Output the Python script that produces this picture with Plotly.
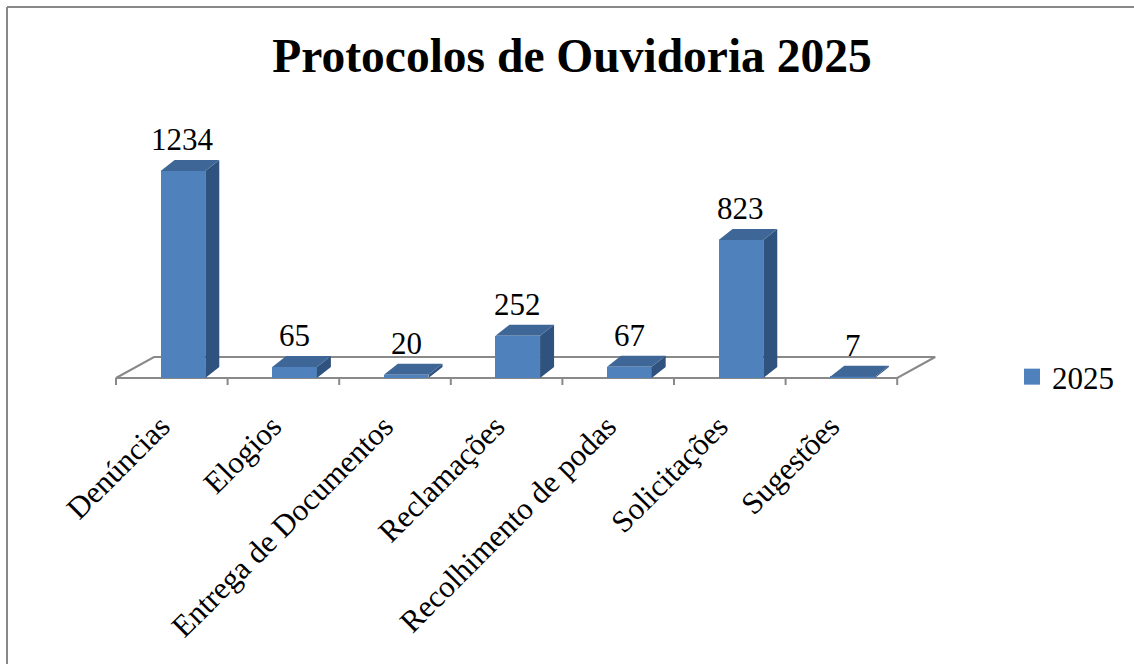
import plotly.graph_objects as go

categories = ["Denúncias", "Elogios", "Entrega de Documentos", "Reclamações",
              "Recolhimento de podas", "Solicitações", "Sugestões"]
values = [1234, 65, 20, 252, 67, 823, 7]
series_name = "2025"
title_text = "Protocolos de Ouvidoria 2025"

W, H = 1134, 664
X0_PX, CAT_PX = 116.0, 111.6      # floor front-left corner, px per category
Y0_PX, VAL_PX = 378.0, 0.1678     # floor front line, px per value unit

def px_x(p):  # pixel offset -> x data units
    return p / CAT_PX

def px_y(p):  # pixel offset -> y data units
    return p / VAL_PX

FRONT = "#4F81BD"
TOP = "#3E6797"
SIDE = "#30527E"
GRID = "#898989"
FONT = "Liberation Serif"

bar_off, bar_w = 0.6, 0.4
bdx, bdy = px_x(14), px_y(11)      # bar depth
fdx, fdy = px_x(38), px_y(21)      # floor depth
label_dx = px_x(11)                # category label shift (left)

n = len(categories)
fig = go.Figure()

# front faces
fig.add_trace(go.Bar(
    x=[i + bar_off for i in range(n)], y=values, width=bar_w,
    marker=dict(color=FRONT, line=dict(width=0)), name=series_name,
    showlegend=False, hoverinfo="skip"))

# top and side faces
for i, v in enumerate(values):
    x0 = i + bar_off - bar_w / 2
    x1 = i + bar_off + bar_w / 2
    fig.add_trace(go.Scatter(
        x=[x1, x1 + bdx, x1 + bdx, x1, x1], y=[0, bdy, v + bdy, v, 0],
        fill="toself", fillcolor=SIDE, mode="lines", line=dict(width=0, color=SIDE),
        showlegend=False, hoverinfo="skip"))
    fig.add_trace(go.Scatter(
        x=[x0, x1, x1 + bdx, x0 + bdx, x0], y=[v, v, v + bdy, v + bdy, v],
        fill="toself", fillcolor=TOP, mode="lines", line=dict(width=0, color=TOP),
        showlegend=False, hoverinfo="skip"))

# legend entry for the series (square swatch)
fig.add_trace(go.Scatter(
    x=[None], y=[None], mode="markers", name=series_name,
    marker=dict(symbol="square", size=16, color=FRONT, line=dict(width=0)),
    showlegend=True, hoverinfo="skip"))

shapes = []
# floor
shapes.append(dict(type="path", xref="x", yref="y", layer="below",
                   path=f"M 0 0 L {n} 0 L {n + fdx} {fdy} L {fdx} {fdy} Z",
                   line=dict(color=GRID, width=2), fillcolor="rgba(0,0,0,0)"))
for k in range(n + 1):
    shapes.append(dict(type="line", xref="x", yref="y", layer="below",
                       x0=k, x1=k, y0=0, y1=-px_y(7), line=dict(color=GRID, width=2)))
# chart border
shapes.append(dict(type="line", xref="paper", yref="paper", x0=7 / W, x1=1.01,
                   y0=1 - 7 / H, y1=1 - 7 / H, line=dict(color="#888888", width=2)))
shapes.append(dict(type="line", xref="paper", yref="paper", x0=7 / W, x1=7 / W,
                   y0=1 - 7 / H, y1=-0.01, line=dict(color="#888888", width=2)))

annotations = []
for i, v in enumerate(values):
    annotations.append(dict(x=i + bar_off, y=v + bdy, xref="x", yref="y",
                            text=str(v), showarrow=False, xanchor="center",
                            yanchor="bottom", yshift=1,
                            font=dict(family=FONT, size=31, color="#000000")))

fig.update_layout(
    width=W, height=H,
    font=dict(family=FONT, color="#000000"),
    margin=dict(l=0, r=0, t=0, b=0, pad=0),
    paper_bgcolor="white", plot_bgcolor="rgba(0,0,0,0)",
    title=dict(text=f"<b>{title_text}</b>", x=572 / W, y=1 - 55 / H,
               xanchor="center", yanchor="middle", xref="paper", yref="container",
               font=dict(family=FONT, size=47.5, color="#000000")),
    shapes=shapes, annotations=annotations,
    showlegend=True,
    legend=dict(x=1012 / W, y=1 - 377 / H, xanchor="left", yanchor="middle",
                font=dict(family=FONT, size=31, color="#000000"),
                bgcolor="rgba(0,0,0,0)"),
    xaxis=dict(range=[-X0_PX / CAT_PX, (W - X0_PX) / CAT_PX], showgrid=False,
               zeroline=False, showline=False, ticks="",
               tickmode="array", tickvals=[i + 0.5 - label_dx for i in range(n)],
               ticktext=categories, tickangle=-45,
               tickfont=dict(family=FONT, size=31, color="#000000"),
               anchor="free", position=1 - 401 / H, automargin=False,
               fixedrange=True),
    yaxis=dict(range=[-(H - Y0_PX) / VAL_PX, Y0_PX / VAL_PX], showgrid=False,
               zeroline=False, showline=False, showticklabels=False, ticks="",
               automargin=False, fixedrange=True),
    bargap=0,
)

fig.write_html("out.html")
